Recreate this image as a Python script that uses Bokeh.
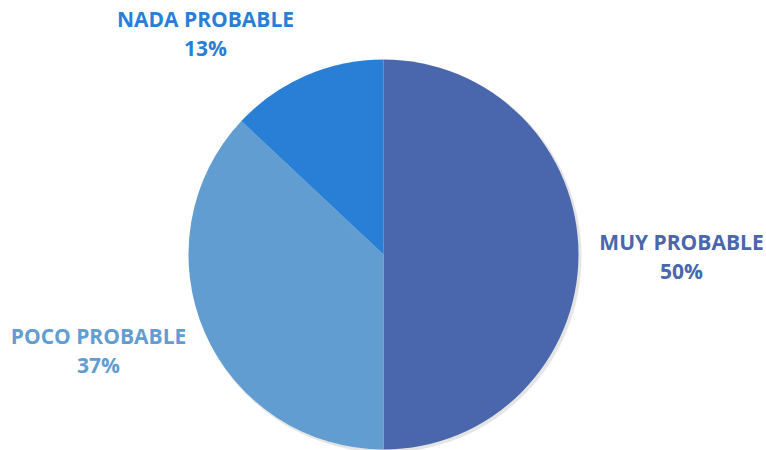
import math
from bokeh.plotting import figure
from bokeh.models import Range1d, ColumnDataSource
from bokeh.core.properties import value
from bokeh.embed import file_html
from bokeh.resources import INLINE

categories = ["MUY PROBABLE", "POCO PROBABLE", "NADA PROBABLE"]
percents = [50, 37, 13]
colors = ["#4A66AC", "#629DD1", "#297FD5"]

# layout (screen pixel coordinates; y measured from top)
W, H = 766, 450
cx, cy_top, r = 383, 254, 195
label_pos = [(681, 255), (98, 349), (205, 32)]

def Y(y_top):
    return H - y_top

p = figure(width=W, height=H, output_backend="svg", toolbar_location=None,
           x_range=Range1d(0, W), y_range=Range1d(0, H),
           min_border=0, outline_line_color=None)
p.axis.visible = False
p.grid.visible = False
p.background_fill_color = "white"
p.border_fill_color = "white"

total = sum(percents)
starts, ends = [], []
cum = 0
for v in percents:
    starts.append(math.pi / 2 - 2 * math.pi * cum / total)
    cum += v
    ends.append(math.pi / 2 - 2 * math.pi * cum / total)

# subtle shadow
p.circle(x=[cx + 2], y=[Y(cy_top) - 2], radius=r + 1, fill_color="#000000",
         fill_alpha=0.10, line_color=None)

src = ColumnDataSource(dict(start=starts, end=ends, color=colors))
p.wedge(x=cx, y=Y(cy_top), radius=r, start_angle="start", end_angle="end",
        direction="clock", fill_color="color", line_color="white", line_width=0,
        source=src)

for cat, pct, col, (lx, ly) in zip(categories, percents, colors, label_pos):
    p.text(x=[lx], y=[Y(ly - 14)], text=[cat], text_align="center",
           text_baseline="middle", text_font=value("Open Sans"),
           text_font_style="bold", text_font_size="21px", text_color=col)
    p.text(x=[lx], y=[Y(ly + 15)], text=[f"{pct}%"], text_align="center",
           text_baseline="middle", text_font=value("Open Sans"),
           text_font_style="bold", text_font_size="21px", text_color=col)

open("out.html", "w").write(file_html(p, INLINE))
